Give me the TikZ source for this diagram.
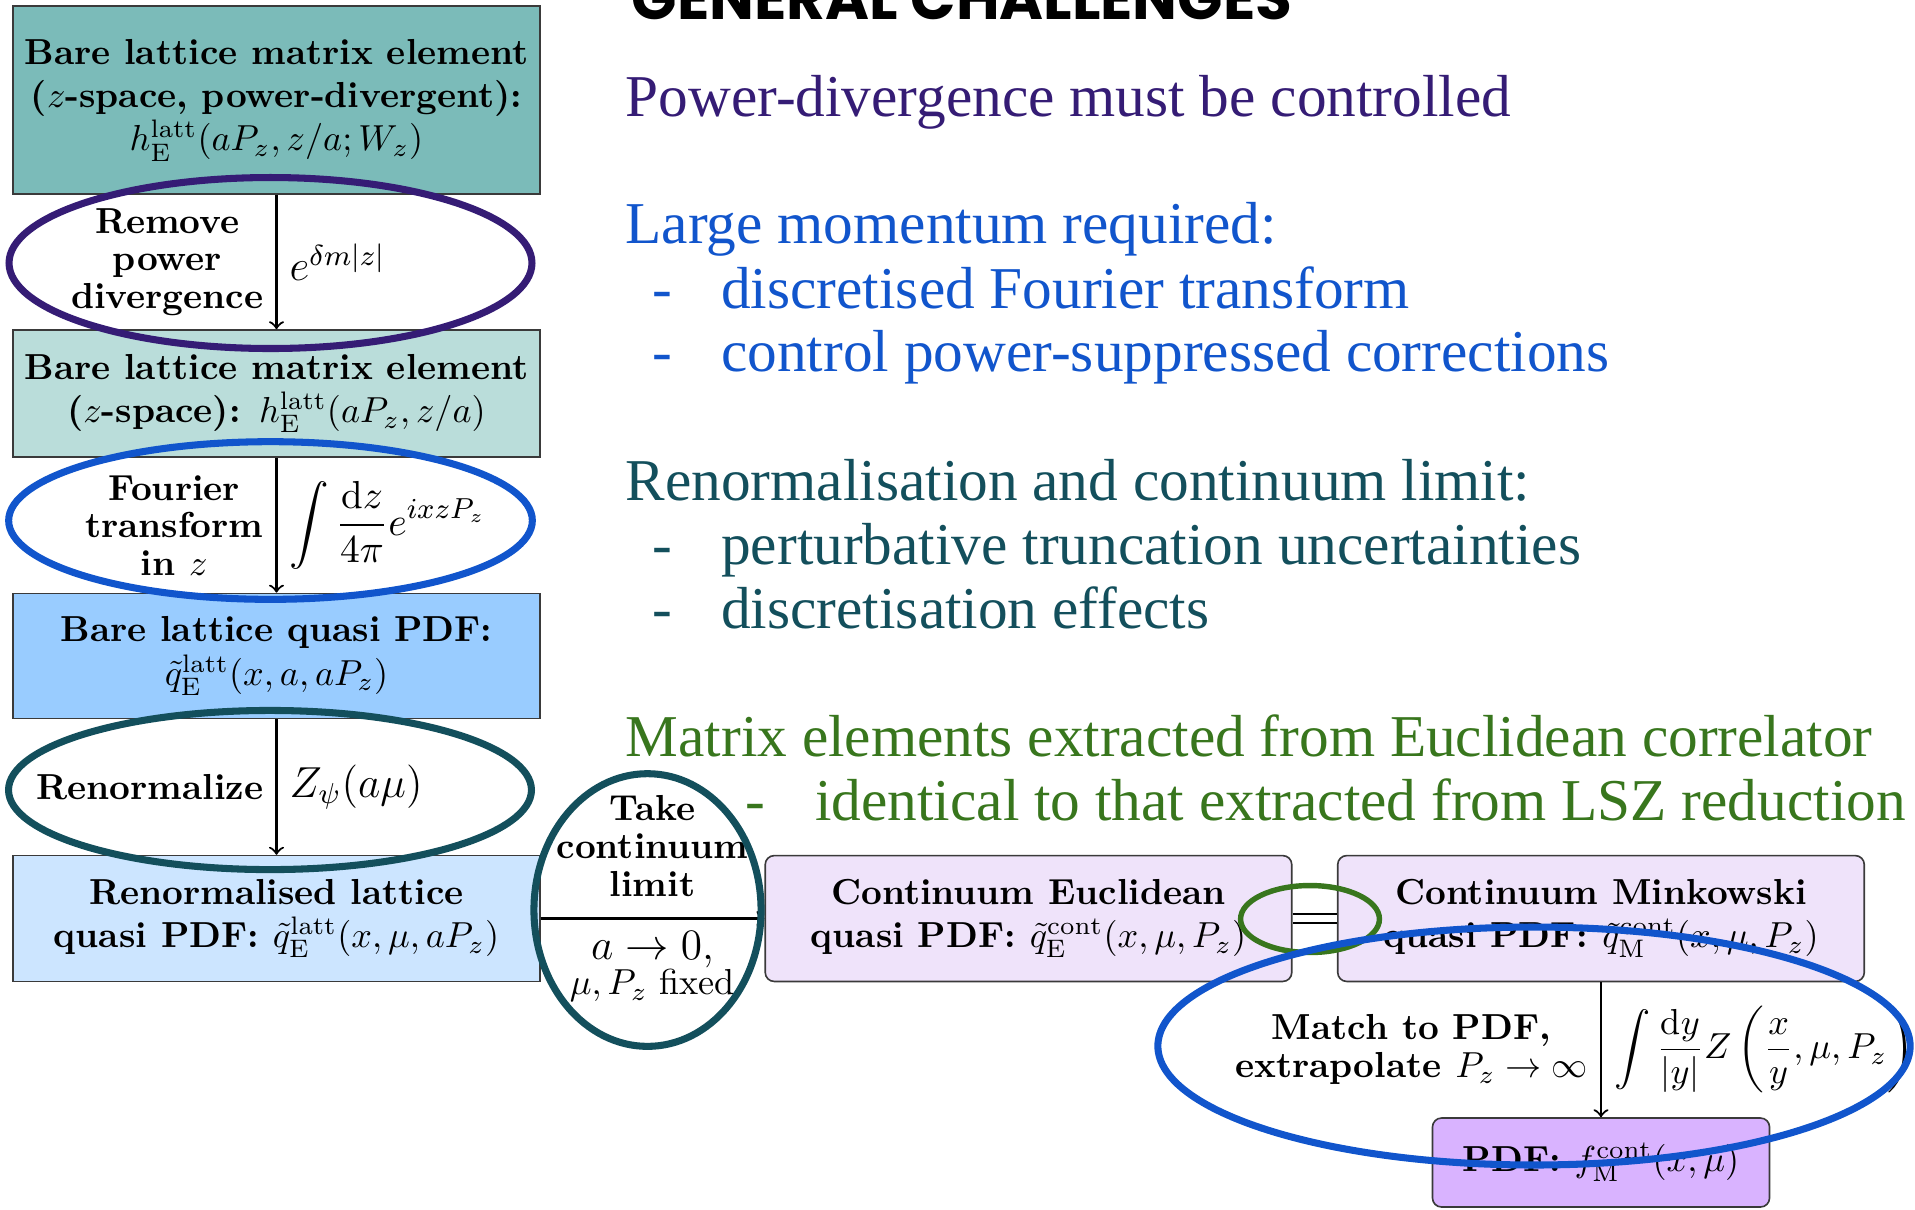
\documentclass[tikz,border=0pt]{standalone}
\usepackage{fontspec}
\usepackage{amsmath}
\newfontfamily\slidefont{Liberation Serif}
\newfontfamily\headfont{Poppins}
\definecolor{cpurple}{HTML}{351C75}
\definecolor{cblue}{HTML}{1155CC}
\definecolor{cteal}{HTML}{134F5C}
\definecolor{cgreen}{HTML}{38761D}
\definecolor{fillA}{HTML}{7BBBB9}
\definecolor{fillB}{HTML}{BADDDA}
\definecolor{fillC}{HTML}{99CCFF}
\definecolor{fillD}{HTML}{CCE5FF}
\definecolor{fillE}{HTML}{EFE3FA}
\definecolor{fillF}{HTML}{D9B3FF}
\definecolor{boxline}{HTML}{3A3A3A}
\begin{document}
\begin{tikzpicture}[x=0.2765pt, y=-0.2765pt,
  box/.style={draw=boxline, line width=0.45pt, minimum width=145.6pt, inner sep=2pt, align=center, font=\bfseries},
  rbox/.style={box, rounded corners=2.5pt},
  arr/.style={->, line width=0.6pt},
  lbl/.style={align=center, font=\bfseries\fontsize{10}{10.4}\selectfont},
  mlbl/.style={align=center},
  ring/.style={line width=1.95pt},
  slide/.style={anchor=base west, inner sep=0pt, font=\slidefont\fontsize{16.4}{19}\selectfont},
]
\useasboundingbox (0,0) rectangle (1915,1209);

% ---- left column boxes
\node[box, fill=fillA, minimum height=52pt] (b1) at (276.5,100)
  {Bare lattice matrix element\\($z$-space, power-divergent):\\$h^{\mathrm{latt}}_{\mathrm{E}}(aP_z, z/a; W_z)$};
\node[box, fill=fillB, minimum height=35.1pt] (b2) at (276.5,393.5)
  {Bare lattice matrix element\\($z$-space): $h^{\mathrm{latt}}_{\mathrm{E}}(aP_z, z/a)$};
\node[box, fill=fillC, minimum height=34.6pt] (b3) at (276.5,656)
  {Bare lattice quasi PDF:\\$\tilde q^{\mathrm{latt}}_{\mathrm{E}}(x, a, aP_z)$};
\node[box, fill=fillD, minimum height=34.8pt] (b4) at (276.5,918.5)
  {Renormalised lattice\\quasi PDF: $\tilde q^{\mathrm{latt}}_{\mathrm{E}}(x, \mu, aP_z)$};
\node[rbox, fill=fillE, minimum height=34.8pt] (b5) at (1028.5,918.5)
  {Continuum Euclidean\\quasi PDF: $\tilde q^{\mathrm{cont}}_{\mathrm{E}}(x, \mu, P_z)$};
\node[rbox, fill=fillE, minimum height=34.8pt] (b6) at (1601,918.5)
  {Continuum Minkowski\\quasi PDF: $\tilde q^{\mathrm{cont}}_{\mathrm{M}}(x, \mu, P_z)$};
\node[rbox, fill=fillF, minimum width=93.2pt, minimum height=24.6pt] (b7) at (1601,1162.5)
  {PDF: $f^{\mathrm{cont}}_{\mathrm{M}}(x, \mu)$};

% ---- connectors
\draw[arr] (b1) -- (b2)
  node[lbl, midway, left] (l1) {Remove\\power\\divergence}
  node[mlbl, midway, right, font=\large] (m1) {$e^{\delta m|z|}$};
\draw[arr] (b2) -- (b3)
  node[lbl, midway, left] (l2) {Fourier\\transform\\in $z$}
  node[mlbl, midway, right, font=\fontsize{10.8}{13}\selectfont] (m2) {$\displaystyle\int\frac{\mathrm{d}z}{4\pi}e^{ixzP_z}$};
\draw[arr] (b3) -- (b4)
  node[lbl, midway, left] (l3) {Renormalize}
  node[mlbl, midway, right, font=\large] (m3) {$Z_\psi(a\mu)$};
\draw[arr] (b4) -- (b5)
  node[lbl, midway, above=2.5pt] (l4) {Take\\continuum\\limit}
  node[mlbl, midway, below, font=\normalfont\fontsize{10}{9.7}\selectfont] (m4) {{\large $a\to 0$,}\\$\mu, P_z$ fixed};
\draw[double, double distance=2.1pt, line width=0.4pt] (b5) -- (b6);
\draw[arr] (b6) -- (b7)
  node[lbl, midway, left] (l6) {Match to PDF,\\extrapolate $P_z\to\infty$}
  node[mlbl, midway, right] (m6) {$\displaystyle\int\frac{\mathrm{d}y}{|y|}Z\left(\frac{x}{y},\mu,P_z\right)$};

% ---- highlight rings
\draw[ring, cpurple] (270.5,263) ellipse [x radius=72.3pt, y radius=23.64pt];
\draw[ring, cblue] (270.5,520.5) ellipse [x radius=72.4pt, y radius=21.8pt];
\draw[ring, cteal] (270,790) ellipse [x radius=72.3pt, y radius=22.0pt];
\draw[ring, cteal] (647.5,910) ellipse [x radius=31.4pt, y radius=37.7pt];
\draw[line width=1.5pt, cgreen] (1310,919) ellipse [x radius=19.2pt, y radius=9.26pt];
\draw[ring, cblue] (1534,1046) ellipse [x radius=104pt, y radius=32.9pt];

% ---- slide text
\node[anchor=base west, inner sep=0pt, font=\headfont\bfseries\fontsize{16.5}{19}\selectfont] (hd) at (631,19) {GENERAL CHALLENGES};
\node[slide, text=cpurple] (t1) at (625,116.5) {Power-divergence must be controlled};
\node[slide, text=cblue] (t2) at (625,243.5) {Large momentum required:};
\node[slide, text=cblue] (d21) at (652,308) {-};
\node[slide, text=cblue] (t21) at (720.6,308) {discretised Fourier transform};
\node[slide, text=cblue] (d22) at (652,371.5) {-};
\node[slide, text=cblue] (t22) at (720.6,371.5) {control power-suppressed corrections};
\node[slide, text=cteal] (t3) at (625,500) {Renormalisation and continuum limit:};
\node[slide, text=cteal] (d31) at (652,564.5) {-};
\node[slide, text=cteal] (t31) at (720.6,564.5) {perturbative truncation uncertainties};
\node[slide, text=cteal] (d32) at (652,628) {-};
\node[slide, text=cteal] (t32) at (720.6,628) {discretisation effects};
\node[slide, text=cgreen] (t4) at (625,756) {Matrix elements extracted from Euclidean correlator};
\node[slide, text=cgreen] (d41) at (745,820.5) {-};
\node[slide, text=cgreen] (t41) at (814.6,820.5) {identical to that extracted from LSZ reduction};
\end{tikzpicture}
\end{document}
